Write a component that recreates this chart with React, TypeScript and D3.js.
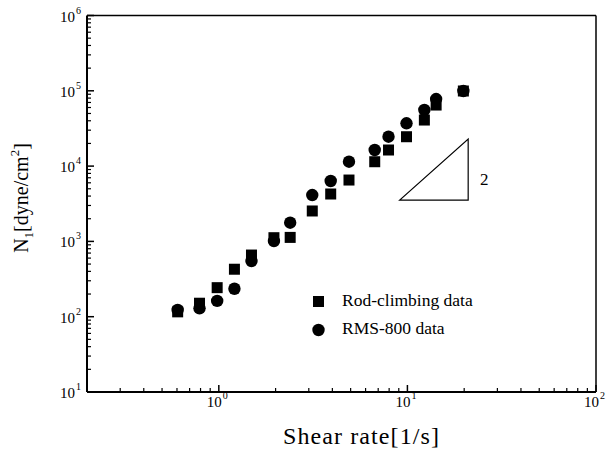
import React from "react";
import * as d3 from "d3";

const rodShear = [0.605, 0.79, 0.98, 1.21, 1.49, 1.96, 2.39, 3.13, 3.92, 4.9, 6.71, 7.94, 9.89, 12.3, 14.2, 19.8];
const rodN1 = [116, 151, 243, 427, 659, 1120, 1130, 2535, 4260, 6530, 11430, 16360, 24550, 40900, 64700, 99400];
const rmsShear = [0.605, 0.79, 0.98, 1.21, 1.49, 1.96, 2.39, 3.13, 3.92, 4.9, 6.71, 7.94, 9.89, 12.3, 14.2, 19.8];
const rmsN1 = [123, 129, 162, 235, 548, 1010, 1770, 4130, 6340, 11430, 16360, 24550, 37000, 55600, 77800, 99400];
const xMajor = [1, 10, 100];
const xExp = ["0", "1", "2"];
const yMajor = [10, 100, 1000, 1e4, 1e5, 1e6];
const yExp = ["1", "2", "3", "4", "5", "6"];
const triX = [9.1, 21];
const triY = [3540, 22900];

const W = 606, H = 456;
const L = 87, R = 596, T = 15.5, B = 392;

export default function App() {
  const x = d3.scaleLog().domain([0.2, 100]).range([L, R]);
  const y = d3.scaleLog().domain([10, 1e6]).range([B, T]);
  const xMinor: number[] = [];
  for (const d of [0.1, 1, 10]) for (let k = 2; k <= 9; k++) { const v = d * k; if (v >= 0.2 && v < 100) xMinor.push(v); }
  const yMinor: number[] = [];
  for (const d of [10, 100, 1000, 1e4, 1e5]) for (let k = 2; k <= 9; k++) yMinor.push(d * k);
  const ff = { fontFamily: "Liberation Serif, Times New Roman, serif" };
  const tri = `M${x(triX[0])},${y(triY[0])}L${x(triX[1])},${y(triY[0])}L${x(triX[1])},${y(triY[1])}Z`;
  return (
    <svg width={W} height={H} style={{ position: "absolute", left: 0, top: 0, background: "#fff" }}>
      <rect x={0} y={0} width={W} height={H} fill="#fff" />
      <line x1={L} x2={R} y1={T} y2={T} stroke="#000" strokeWidth={1.5} />
      <line x1={R} x2={R} y1={T} y2={B} stroke="#000" strokeWidth={1.5} />
      <line x1={L} x2={R} y1={B} y2={B} stroke="#000" strokeWidth={2} />
      <line x1={L} x2={L} y1={T} y2={B} stroke="#000" strokeWidth={2} />
      {yMajor.map((v, i) => (
        <g key={"ym" + i}>
          <line x1={L} x2={L + 7} y1={y(v)} y2={y(v)} stroke="#000" strokeWidth={1.5} />
          <text style={ff} x={75} y={y(v) + 6} fontSize={15} textAnchor="end">10</text>
          <text style={ff} x={76} y={y(v) - 2} fontSize={10}>{yExp[i]}</text>
        </g>
      ))}
      {yMinor.map((v, i) => (
        <line key={"yn" + i} x1={L} x2={L + 4} y1={y(v)} y2={y(v)} stroke="#000" strokeWidth={1.2} />
      ))}
      {xMajor.map((v, i) => (
        <g key={"xm" + i}>
          <line x1={x(v)} x2={x(v)} y1={B} y2={B - 7} stroke="#000" strokeWidth={1.5} />
          <text style={ff} x={x(v) + 3} y={407} fontSize={15} textAnchor="end">10</text>
          <text style={ff} x={x(v) + 4} y={399} fontSize={10}>{xExp[i]}</text>
        </g>
      ))}
      {xMinor.map((v, i) => (
        <line key={"xn" + i} x1={x(v)} x2={x(v)} y1={B} y2={B - 4} stroke="#000" strokeWidth={1.2} />
      ))}
      {rodShear.map((v, i) => (
        <rect key={"s" + i} x={x(v) - 5.5} y={y(rodN1[i]) - 5.5} width={11} height={11} fill="#000" />
      ))}
      {rmsShear.map((v, i) => (
        <circle key={"c" + i} cx={x(v)} cy={y(rmsN1[i])} r={6.2} fill="#000" />
      ))}
      <path d={tri} fill="none" stroke="#000" strokeWidth={1.2} />
      <text style={ff} x={480} y={185} fontSize={17}>2</text>
      <rect x={313} y={296} width={11} height={11} fill="#000" />
      <text style={ff} x={342} y={306} fontSize={17.5}>Rod-climbing data</text>
      <circle cx={318.5} cy={330} r={6.2} fill="#000" />
      <text style={ff} x={342} y={334} fontSize={17.5}>RMS-800 data</text>
      <text style={ff} x={361} y={444} fontSize={24} textAnchor="middle" textLength={156} lengthAdjust="spacing">Shear rate[1/s]</text>
      <text style={ff} transform="translate(28,198) rotate(-90)" fontSize={20} textAnchor="middle">
        N<tspan fontSize={13} dy={5}>1</tspan><tspan dy={-5}>[dyne/cm</tspan><tspan fontSize={13} dy={-9}>2</tspan><tspan dy={9}>]</tspan>
      </text>
    </svg>
  );
}
